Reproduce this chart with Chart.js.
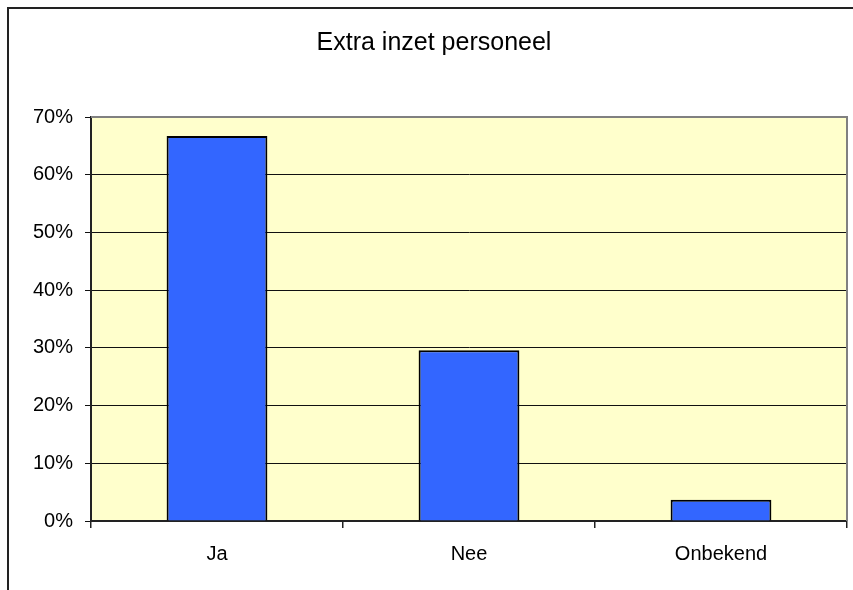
<!DOCTYPE html>
<html>
<head>
<meta charset="utf-8">
<script src="https://cdn.jsdelivr.net/npm/chart.js@4"></script>
<style>
  html, body { margin: 0; padding: 0; background: #fff; }
  canvas { display: block; }
</style>
</head>
<body>
<canvas id="c" width="853" height="590"></canvas>
<script>
const chartTitle = "Extra inzet personeel";
const categories = ["Ja", "Nee", "Onbekend"];
const percentages = [66.7, 29.6, 3.7];
const yTicks = [0, 10, 20, 30, 40, 50, 60, 70];

const FONT = "'Liberation Sans', Arial, sans-serif";

const decor = {
  id: 'decor',
  beforeDraw(chart) {
    const { ctx, chartArea: a } = chart;
    ctx.save();
    ctx.fillStyle = '#ffffff';
    ctx.fillRect(0, 0, chart.width, chart.height);
    ctx.strokeStyle = '#222';
    ctx.lineWidth = 2;
    ctx.strokeRect(8, 8, 900, 900);
    ctx.fillStyle = '#FFFFCC';
    ctx.fillRect(a.left, a.top, a.right - a.left, a.bottom - a.top);
    ctx.restore();
  },
  afterDraw(chart) {
    const { ctx, chartArea: a } = chart;
    ctx.save();
    ctx.strokeStyle = '#808080';
    ctx.lineWidth = 2;
    ctx.beginPath();
    ctx.moveTo(a.left, a.top);
    ctx.lineTo(a.right, a.top);
    ctx.lineTo(a.right, a.bottom);
    ctx.stroke();
    ctx.fillStyle = '#000';
    ctx.font = '25px ' + FONT;
    ctx.textAlign = 'center';
    ctx.textBaseline = 'alphabetic';
    ctx.fillText(chartTitle, 434, 50);
    ctx.restore();
  }
};

new Chart(document.getElementById('c'), {
  type: 'bar',
  data: {
    labels: categories,
    datasets: [{
      data: percentages,
      backgroundColor: '#3366FF',
      borderColor: '#000000',
      borderWidth: 2,
      barPercentage: 0.4,
      categoryPercentage: 1.0
    }]
  },
  options: {
    responsive: false,
    animation: false,
    devicePixelRatio: 1,
    layout: { padding: { top: 117, right: 6, left: 0, bottom: 0 } },
    plugins: { legend: { display: false }, title: { display: false }, tooltip: { enabled: false } },
    scales: {
      x: {
        offset: true,
        grid: { display: true, drawOnChartArea: false, drawTicks: true, tickLength: 7, color: '#222', lineWidth: 1.5, offset: true },
        border: { display: true, color: '#222', width: 2 },
        ticks: { color: '#000', font: { family: FONT, size: 20 }, padding: 14 },
        afterFit(s) { s.height = 69; }
      },
      y: {
        min: 0, max: 70,
        afterBuildTicks(s) { s.ticks = yTicks.map(v => ({ value: v })); },
        grid: {
          color: (c) => (c.tick && c.tick.value === 70) ? 'rgba(0,0,0,0)' : '#111',
          tickColor: '#111', tickLength: 6, lineWidth: 1
        },
        border: { display: true, color: '#222', width: 2 },
        ticks: { color: '#000', font: { family: FONT, size: 20 }, padding: 12, callback: (v) => v + '%' },
        afterFit(s) { s.width = 91; }
      }
    }
  },
  plugins: [decor]
});
</script>
</body>
</html>
